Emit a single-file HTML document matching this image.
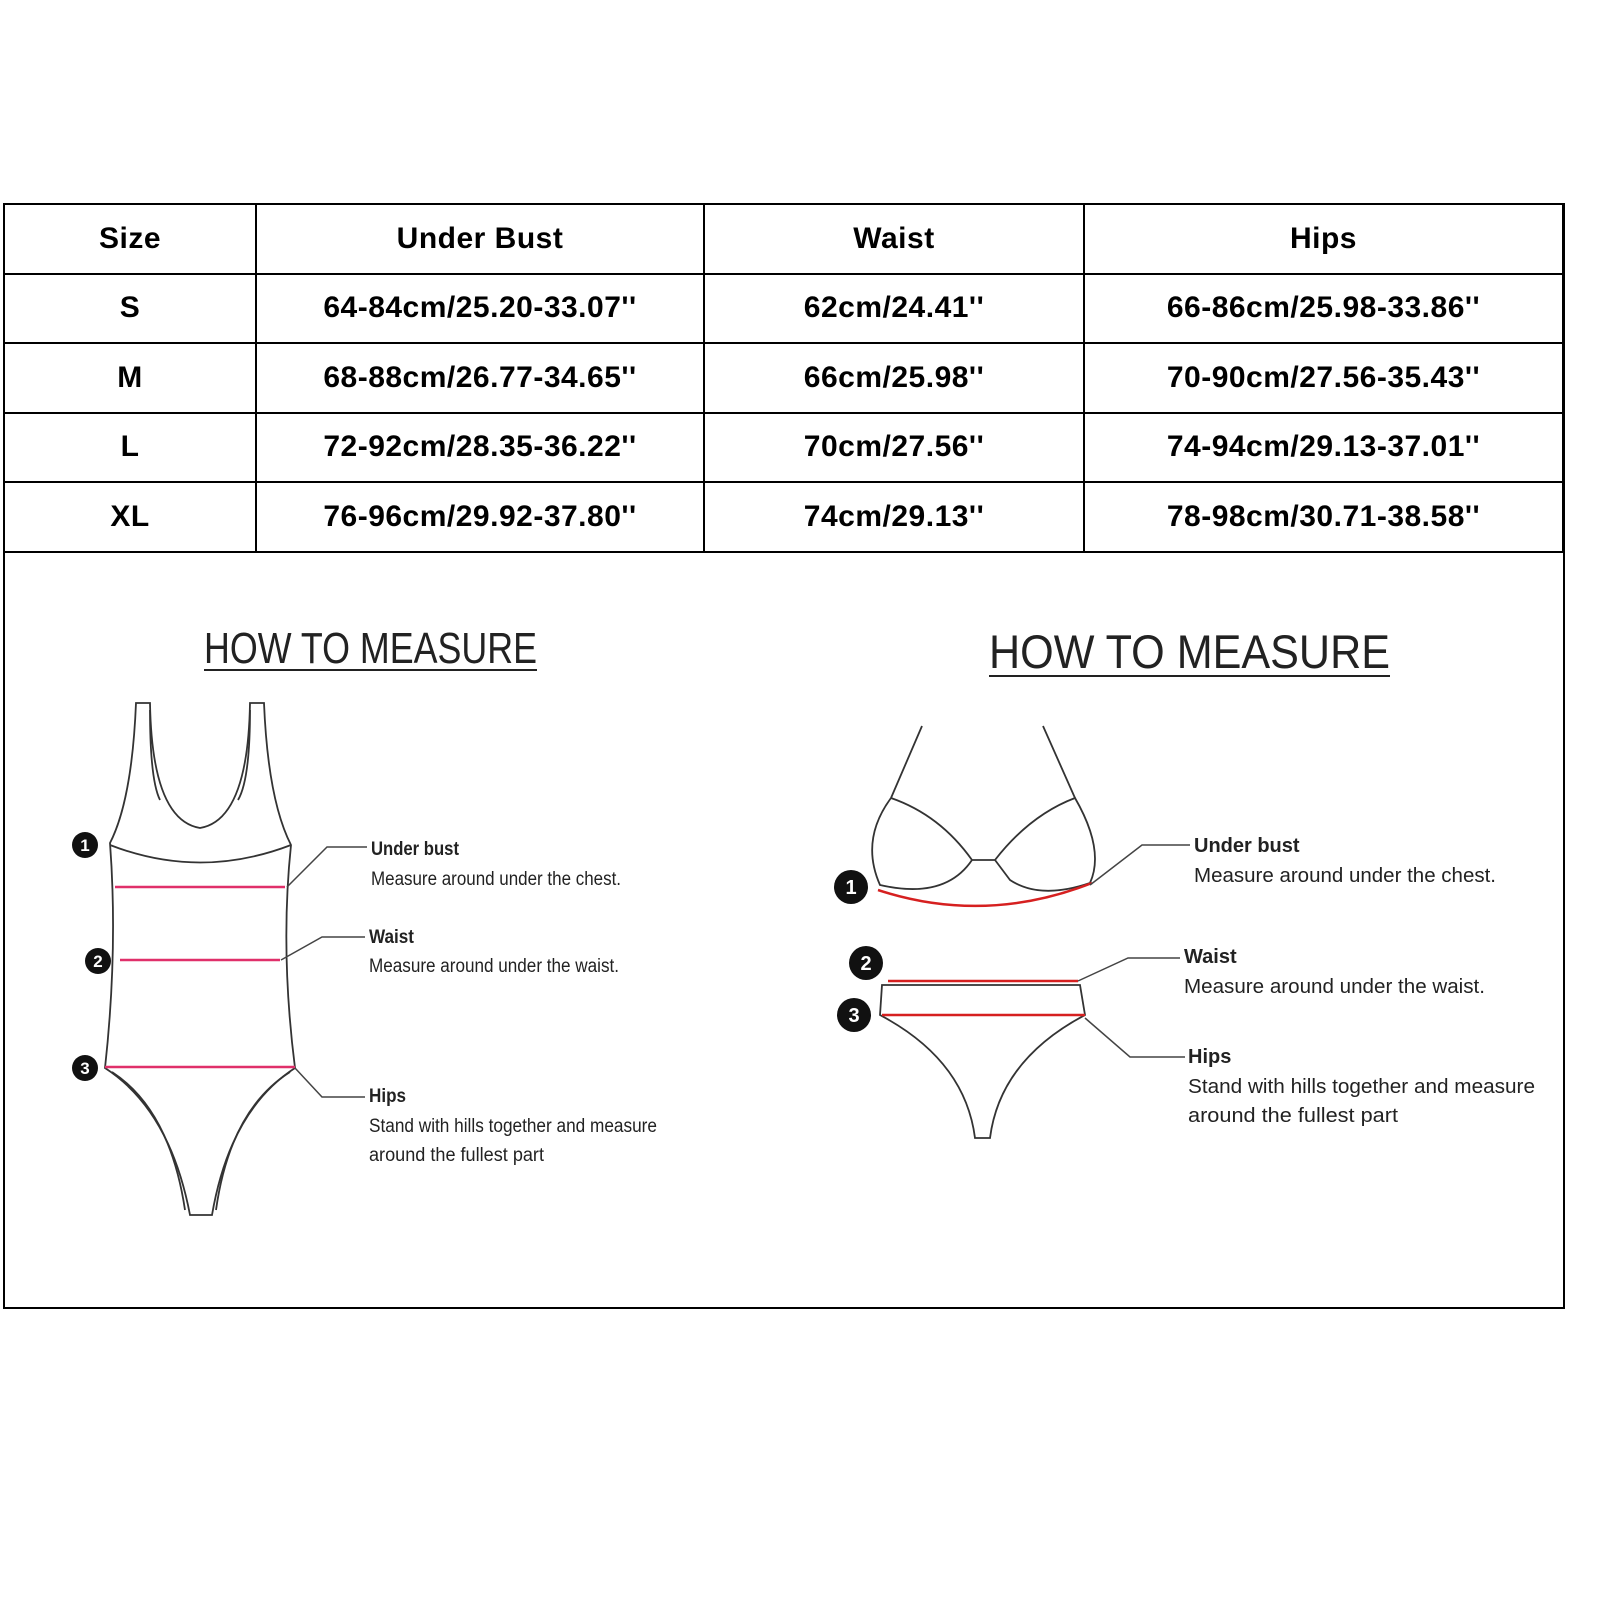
<!DOCTYPE html>
<html><head><meta charset="utf-8"><style>
body{margin:0;background:#fff;width:1600px;height:1600px;position:relative;overflow:hidden;font-family:"Liberation Sans",Arial,sans-serif}
table{position:absolute;left:3px;top:203px;width:1561px;border-collapse:collapse}
td{border:2px solid #000;height:67.5px;text-align:center;font-weight:bold;font-size:30px;padding:0;letter-spacing:0.5px}
#box{position:absolute;left:3px;top:203px;width:1558px;height:1102px;border:2px solid #000}
svg{position:absolute;left:0;top:0}
</style></head><body>
<div id="box"></div>
<table>
<tr><td style="width:250px">Size</td><td style="width:446px">Under Bust</td><td style="width:378px">Waist</td><td>Hips</td></tr>
<tr><td>S</td><td>64-84cm/25.20-33.07''</td><td>62cm/24.41''</td><td>66-86cm/25.98-33.86''</td></tr>
<tr><td>M</td><td>68-88cm/26.77-34.65''</td><td>66cm/25.98''</td><td>70-90cm/27.56-35.43''</td></tr>
<tr><td>L</td><td>72-92cm/28.35-36.22''</td><td>70cm/27.56''</td><td>74-94cm/29.13-37.01''</td></tr>
<tr><td>XL</td><td>76-96cm/29.92-37.80''</td><td>74cm/29.13''</td><td>78-98cm/30.71-38.58''</td></tr>
</table>
<svg width="1600" height="1600" font-family="Liberation Sans, Arial, sans-serif">
<g>
<text x="204" y="663" font-size="44" fill="#222" textLength="333" lengthAdjust="spacingAndGlyphs">HOW TO MEASURE</text>
<line x1="204" y1="670" x2="537" y2="670" stroke="#222" stroke-width="2"/></g>
<g>
<text x="989" y="668" font-size="47" fill="#222" textLength="401" lengthAdjust="spacingAndGlyphs">HOW TO MEASURE</text>
<line x1="989" y1="676" x2="1390" y2="676" stroke="#222" stroke-width="2"/></g>
<g fill="none" stroke="#333" stroke-width="1.8">
<path d="M136,703 L150,703 Q152,820 200,828 Q248,820 250,703 L264,703 Q268,800 291,845 Q280,950 295,1068 Q230,1110 212,1215 L190,1215 Q170,1110 105,1068 Q118,950 110,843 Q132,800 136,703Z"/>
<path d="M150,710 Q150,780 160,800 M250,710 Q250,780 238,800"/>
<path d="M110,845 Q200,880 291,845"/>
<path d="M112,1072 Q170,1110 185,1210 M290,1072 Q230,1110 216,1210"/>
</g>
<g stroke="#e0306a" stroke-width="2.5">
<line x1="115" y1="887" x2="285" y2="887"/><line x1="120" y1="960" x2="280" y2="960"/><line x1="105" y1="1067" x2="295" y2="1067"/></g>
<g fill="none" stroke="#333" stroke-width="1.8">
<path d="M922,726 L891,798 M1043,726 L1075,798"/>
<path d="M891,798 Q940,815 972,860 L995,860 Q1030,815 1075,798 Q1105,850 1090,883 Q1040,900 1010,880 L995,860 M972,860 Q945,900 880,885 Q860,840 891,798"/>
<path d="M882,985 L1080,985 L1085,1015 Q1000,1060 990,1138 L975,1138 Q965,1060 880,1015 Z"/>
</g>
<path d="M878,890 Q985,925 1092,883" fill="none" stroke="#d62020" stroke-width="2.5"/>
<g stroke="#d62020" stroke-width="2.5">
<line x1="888" y1="981" x2="1078" y2="981"/><line x1="882" y1="1015" x2="1085" y2="1015"/></g>
<g font-size="17" font-weight="bold" text-anchor="middle" fill="#fff">
<circle cx="85" cy="845" r="13" fill="#111"/><text x="85" y="851">1</text>
<circle cx="98" cy="961" r="13" fill="#111"/><text x="98" y="967">2</text>
<circle cx="85" cy="1068" r="13" fill="#111"/><text x="85" y="1074">3</text>
<circle cx="851" cy="887" r="17" fill="#111"/><text x="851" y="894" font-size="20">1</text>
<circle cx="866" cy="963" r="17" fill="#111"/><text x="866" y="970" font-size="20">2</text>
<circle cx="854" cy="1015" r="17" fill="#111"/><text x="854" y="1022" font-size="20">3</text>
</g>
<g fill="none" stroke="#444" stroke-width="1.5">
<path d="M287,887 L327,847 L367,847"/><path d="M281,960 L322,937 L365,937"/><path d="M295,1068 L322,1097 L365,1097"/>
<path d="M1090,885 L1142,845 L1190,845"/><path d="M1078,981 L1128,958 L1180,958"/><path d="M1085,1018 L1130,1057 L1185,1057"/>
</g>
<g font-size="19" fill="#222">
<text x="371" y="855" font-weight="bold" textLength="88" lengthAdjust="spacingAndGlyphs">Under bust</text><text x="371" y="885" textLength="250" lengthAdjust="spacingAndGlyphs">Measure around under the chest.</text>
<text x="369" y="943" font-weight="bold" textLength="45" lengthAdjust="spacingAndGlyphs">Waist</text><text x="369" y="972" textLength="250" lengthAdjust="spacingAndGlyphs">Measure around under the waist.</text>
<text x="369" y="1102" font-weight="bold" textLength="37" lengthAdjust="spacingAndGlyphs">Hips</text><text x="369" y="1132" textLength="288" lengthAdjust="spacingAndGlyphs">Stand with hills together and measure</text><text x="369" y="1161" textLength="175" lengthAdjust="spacingAndGlyphs">around  the fullest part</text>
</g>
<g font-size="20" fill="#222">
<text x="1194" y="852" font-weight="bold">Under bust</text><text x="1194" y="882" textLength="302" lengthAdjust="spacingAndGlyphs">Measure around under the chest.</text>
<text x="1184" y="963" font-weight="bold">Waist</text><text x="1184" y="993" textLength="301" lengthAdjust="spacingAndGlyphs">Measure around under the waist.</text>
<text x="1188" y="1063" font-weight="bold">Hips</text><text x="1188" y="1093" textLength="347" lengthAdjust="spacingAndGlyphs">Stand with hills together and measure</text><text x="1188" y="1122" textLength="210" lengthAdjust="spacingAndGlyphs">around  the fullest part</text>
</g>
</svg>
</body></html>
